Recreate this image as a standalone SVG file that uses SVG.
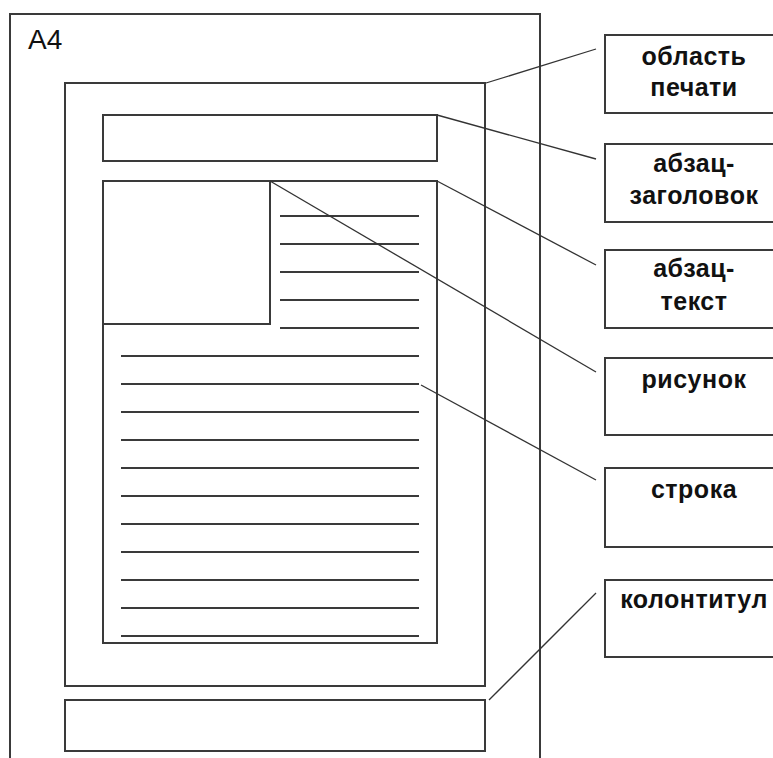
<svg xmlns="http://www.w3.org/2000/svg" width="773" height="758" viewBox="0 0 773 758">
<style>
.box{fill:#fff;stroke:#3a3a3a;stroke-width:2}
.frame{fill:none;stroke:#3a3a3a;stroke-width:2}
.rule{stroke:#3a3a3a;stroke-width:2}
.conn{stroke:#333;stroke-width:1.3;fill:none}
.lbl{font-family:"Liberation Sans",Arial,sans-serif;font-size:25px;font-weight:bold;fill:#111;text-anchor:middle;letter-spacing:0.5px}
.a4{font-family:"Liberation Sans",Arial,sans-serif;font-size:28px;fill:#111}
</style>
<rect width="773" height="758" fill="#fff"/>
<g id="page">
<rect class="frame" x="10" y="14" width="530" height="760"/>
<text class="a4" x="28" y="49">A4</text>
</g>
<g id="print-area"><rect class="frame" x="65" y="83" width="420" height="603"/></g>
<g id="header-para"><rect class="frame" x="103" y="115" width="334" height="46"/></g>
<g id="text-para"><rect class="frame" x="103" y="181" width="334" height="462"/></g>
<g id="picture"><rect class="frame" x="103" y="181" width="167" height="143"/></g>
<g id="lines">
<line class="rule" x1="280" y1="216" x2="419" y2="216"/>
<line class="rule" x1="280" y1="244" x2="419" y2="244"/>
<line class="rule" x1="280" y1="272" x2="419" y2="272"/>
<line class="rule" x1="280" y1="300" x2="419" y2="300"/>
<line class="rule" x1="280" y1="328" x2="419" y2="328"/>
<line class="rule" x1="121" y1="356" x2="419" y2="356"/>
<line class="rule" x1="121" y1="384" x2="419" y2="384"/>
<line class="rule" x1="121" y1="412" x2="419" y2="412"/>
<line class="rule" x1="121" y1="440" x2="419" y2="440"/>
<line class="rule" x1="121" y1="468" x2="419" y2="468"/>
<line class="rule" x1="121" y1="496" x2="419" y2="496"/>
<line class="rule" x1="121" y1="524" x2="419" y2="524"/>
<line class="rule" x1="121" y1="552" x2="419" y2="552"/>
<line class="rule" x1="121" y1="580" x2="419" y2="580"/>
<line class="rule" x1="121" y1="608" x2="419" y2="608"/>
<line class="rule" x1="121" y1="636" x2="419" y2="636"/>
</g>
<g id="footer"><rect class="frame" x="65" y="700" width="420" height="51"/></g>
<g id="connectors">
<line class="conn" x1="486" y1="83" x2="596" y2="49"/>
<line class="conn" x1="437" y1="115" x2="596" y2="159"/>
<line class="conn" x1="437" y1="181" x2="596" y2="265"/>
<line class="conn" x1="270" y1="181" x2="596" y2="372"/>
<line class="conn" x1="421" y1="385" x2="596" y2="480"/>
<line class="conn" x1="489" y1="700" x2="596" y2="593"/>
</g>
<g id="label-print-area">
<rect class="box" x="605" y="35" width="176" height="78"/>
<text class="lbl" x="694" y="65">область</text>
<text class="lbl" x="694" y="96">печати</text>
</g>
<g id="label-header">
<rect class="box" x="605" y="144" width="176" height="78"/>
<text class="lbl" x="694" y="172">абзац-</text>
<text class="lbl" x="694" y="204">заголовок</text>
</g>
<g id="label-text">
<rect class="box" x="605" y="250" width="176" height="78"/>
<text class="lbl" x="694" y="277">абзац-</text>
<text class="lbl" x="694" y="310">текст</text>
</g>
<g id="label-picture">
<rect class="box" x="605" y="358" width="176" height="77"/>
<text class="lbl" x="694" y="388">рисунок</text>
</g>
<g id="label-line">
<rect class="box" x="605" y="468" width="176" height="79"/>
<text class="lbl" x="694" y="498">строка</text>
</g>
<g id="label-footer">
<rect class="box" x="605" y="580" width="176" height="77"/>
<text class="lbl" x="694" y="608">колонтитул</text>
</g>
</svg>
